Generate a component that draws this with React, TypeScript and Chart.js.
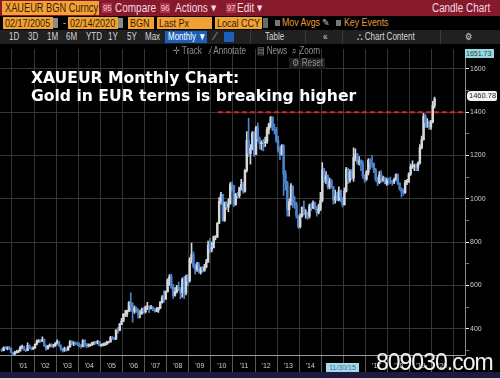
import React, { useEffect, useRef } from 'react';
import { Chart, registerables } from 'chart.js';

Chart.register(...registerables);

// ---- data (monthly XAUEUR candles, Jul 2000 .. Feb 2020) ----
const START_YEAR = 2000;
const START_MONTH = 7; // July
const firstOpen = 305;

const closes = [
  // 2000 Jul-Dec
  299, 313, 310, 311, 310, 290,
  // 2001
  282, 290, 293, 297, 314, 319, 302, 300, 322, 310, 309, 311,
  // 2002
  328, 341, 346, 343, 350, 321, 308, 318, 326, 320, 322, 331,
  // 2003
  341, 322, 306, 300, 306, 301, 316, 341, 332, 333, 332, 330,
  // 2004
  320, 317, 347, 323, 322, 324, 326, 334, 335, 334, 341, 322,
  // 2005
  325, 327, 329, 338, 339, 360, 355, 352, 394, 392, 420, 435,
  // 2006
  466, 468, 482, 520, 504, 480, 495, 487, 472, 472, 489, 479,
  // 2007
  500, 504, 494, 498, 492, 481, 485, 495, 523, 544, 536, 571,
  // 2008
  624, 639, 591, 554, 571, 592, 585, 567, 627, 565, 641, 621,
  // 2009
  719, 742, 689, 670, 694, 661, 677, 668, 685, 707, 786, 766,
  // 2010
  773, 824, 824, 887, 988, 1020, 899, 983, 961, 976, 1066, 1060,
  // 2011
  973, 1021, 1014, 1051, 1067, 1034, 1131, 1270, 1209, 1233, 1303, 1205,
  // 2012
  1327, 1276, 1254, 1261, 1259, 1263, 1319, 1343, 1377, 1322, 1318, 1269,
  // 2013
  1223, 1205, 1246, 1115, 1072, 949, 986, 1058, 983, 973, 919, 871,
  // 2014
  919, 961, 932, 934, 919, 966, 957, 980, 961, 937, 954, 992,
  // 2015
  1132, 1083, 1106, 1056, 1082, 1056, 995, 1012, 995, 1038, 1005, 973,
  // 2016
  1035, 1136, 1083, 1124, 1095, 1190, 1206, 1169, 1175, 1161, 1107, 1091,
  // 2017
  1121, 1178, 1167, 1163, 1132, 1089, 1075, 1111, 1085, 1096, 1071, 1086,
  // 2018
  1085, 1080, 1077, 1088, 1110, 1071, 1046, 1035, 1028, 1075, 1081, 1115,
  // 2019
  1149, 1152, 1154, 1146, 1165, 1236, 1273, 1382, 1350, 1351, 1331, 1355,
  // 2020 Jan-Feb
  1432, 1460.78,
];

const highs = [
  308, 316, 318, 316, 318, 312,
  292, 295, 300, 302, 320, 324, 320, 306, 335, 325, 315, 316,
  330, 348, 350, 350, 362, 352, 325, 323, 330, 330, 328, 336,
  348, 343, 325, 310, 315, 312, 320, 345, 345, 340, 338, 338,
  335, 328, 348, 347, 332, 330, 330, 338, 340, 342, 346, 340,
  330, 334, 336, 343, 342, 365, 365, 360, 396, 405, 425, 448,
  470, 485, 486, 525, 565, 520, 505, 500, 490, 483, 495, 497,
  504, 522, 505, 508, 502, 494, 497, 498, 525, 553, 575, 575,
  630, 650, 652, 605, 590, 600, 615, 590, 635, 640, 648, 650,
  728, 795, 755, 700, 706, 705, 684, 688, 697, 720, 805, 816,
  800, 828, 830, 890, 1005, 1030, 1020, 985, 988, 1000, 1075, 1078,
  1062, 1025, 1030, 1054, 1090, 1077, 1135, 1310, 1372, 1250, 1310, 1310,
  1335, 1350, 1285, 1268, 1275, 1285, 1330, 1350, 1380, 1378, 1345, 1330,
  1290, 1240, 1250, 1250, 1130, 1080, 1000, 1070, 1060, 1010, 985, 925,
  930, 962, 990, 950, 940, 975, 980, 990, 985, 965, 975, 1030,
  1167, 1140, 1125, 1110, 1095, 1090, 1055, 1040, 1030, 1055, 1040, 1005,
  1050, 1145, 1140, 1135, 1135, 1235, 1230, 1210, 1195, 1180, 1175, 1110,
  1130, 1185, 1185, 1200, 1165, 1140, 1100, 1125, 1130, 1105, 1100, 1095,
  1095, 1100, 1085, 1095, 1115, 1115, 1075, 1050, 1045, 1085, 1090, 1120,
  1160, 1175, 1160, 1160, 1170, 1250, 1290, 1395, 1390, 1370, 1360, 1362,
  1450, 1470,
];

const lows = [
  295, 297, 305, 302, 303, 288,
  280, 281, 287, 289, 296, 308, 299, 294, 298, 306, 302, 303,
  309, 325, 336, 336, 340, 318, 300, 305, 316, 314, 313, 318,
  328, 318, 300, 292, 295, 296, 300, 314, 325, 322, 326, 322,
  316, 310, 316, 318, 312, 316, 318, 322, 326, 328, 330, 320,
  318, 320, 322, 325, 333, 338, 350, 348, 350, 378, 390, 418,
  432, 455, 455, 478, 480, 430, 470, 475, 448, 450, 466, 470,
  472, 488, 474, 490, 483, 476, 478, 475, 492, 518, 520, 535,
  568, 600, 586, 540, 550, 565, 575, 538, 545, 538, 556, 600,
  615, 702, 680, 652, 664, 655, 652, 661, 664, 680, 707, 752,
  754, 780, 810, 820, 885, 975, 897, 895, 950, 940, 975, 1035,
  963, 970, 1000, 1005, 1040, 1025, 1030, 1124, 1195, 1160, 1225, 1195,
  1205, 1265, 1230, 1225, 1221, 1240, 1255, 1300, 1330, 1315, 1300, 1260,
  1215, 1180, 1200, 1015, 1040, 920, 920, 970, 960, 955, 910, 863,
  865, 915, 925, 910, 905, 910, 945, 955, 950, 920, 930, 945,
  985, 1075, 1070, 1045, 1045, 1050, 975, 980, 990, 990, 985, 962,
  970, 1030, 1070, 1075, 1090, 1080, 1175, 1160, 1155, 1130, 1095, 1075,
  1085, 1110, 1135, 1145, 1120, 1080, 1060, 1070, 1075, 1080, 1068, 1062,
  1065, 1070, 1062, 1070, 1085, 1065, 1040, 1007, 1015, 1025, 1065, 1075,
  1108, 1140, 1130, 1130, 1130, 1160, 1230, 1270, 1330, 1330, 1320, 1320,
  1350, 1420,
];

const yearLabels = [
  "'01", "'02", "'03", "'04", "'05", "'06", "'07", "'08", "'09", "'10",
  "'11", "'12", "'13", "'14", "'15", "'16", "'17", "'18", "'19", "'20",
];
const hiddenYearLabels = ["'15", "'16"];
const firstLabelYear = 2001;
const majorYTicks = [400, 600, 800, 1000, 1200, 1400, 1600];
const minorYTicks = [300, 500, 700, 900, 1100, 1300, 1500];
const resistanceLevel = 1400;
const resistanceStart = 2010.32;
const lastPriceLabel = '1460.78';
const axisTopLabel = '1651.73';
const cursorDateLabel = '11/30/15';

const X_MIN = 2000.457;
const X_MAX = 2021.5;
const Y_MIN = 278.4;
const Y_MAX = 1690.7;

const UP = '#d4d6da';
const DOWN = '#4b84cc';
const GRID = '#363636';
const SANS = '"Liberation Sans", Arial, sans-serif';

function CandleChart() {
  const ref = useRef<HTMLCanvasElement | null>(null);
  useEffect(() => {
    if (!ref.current) return;
    const times = closes.map((_, i) => START_YEAR + (START_MONTH - 1 + i + 0.5) / 12);
    const opens = closes.map((_, i) => (i === 0 ? firstOpen : closes[i - 1]));
    const colors = closes.map((c, i) => (c >= opens[i] ? UP : DOWN));

    const xTicks: number[] = [];
    for (let k = 0; k < yearLabels.length; k++) {
      xTicks.push(firstLabelYear + k);
      xTicks.push(firstLabelYear + k + 0.5);
    }
    xTicks.push(firstLabelYear + yearLabels.length);
    const yTicks = [...majorYTicks, ...minorYTicks].sort((a, b) => a - b);

    const chart = new Chart(ref.current, {
      type: 'bar',
      data: {
        datasets: [
          {
            type: 'line',
            data: [
              { x: resistanceStart, y: resistanceLevel },
              { x: X_MAX, y: resistanceLevel },
            ],
            borderColor: '#d42828',
            borderWidth: 2,
            borderDash: [5, 3],
            pointRadius: 0,
            order: 0,
          } as any,
          {
            type: 'bar',
            data: times.map((t, i) => ({ x: t, y: [lows[i], highs[i]] })),
            backgroundColor: colors,
            barThickness: 1,
            grouped: false,
            borderWidth: 0,
            order: 2,
          } as any,
          {
            type: 'bar',
            data: times.map((t, i) => ({ x: t, y: [opens[i], closes[i]] })),
            backgroundColor: colors,
            barThickness: 1.8,
            grouped: false,
            borderWidth: 0,
            order: 1,
          } as any,
        ],
      },
      options: {
        animation: false,
        responsive: false,
        maintainAspectRatio: false,
        layout: { padding: { top: 1, left: 0, right: 0, bottom: 0 } },
        plugins: { legend: { display: false }, tooltip: { enabled: false } },
        scales: {
          x: {
            type: 'linear',
            min: X_MIN,
            max: X_MAX,
            offset: false,
            grid: {
              offset: false,
              color: (ctx: any) => (ctx.tick && Number.isInteger(ctx.tick.value) ? GRID : 'rgba(0,0,0,0)'),
              tickColor: (ctx: any) => (ctx.tick && Number.isInteger(ctx.tick.value) ? '#5a5a5a' : 'rgba(0,0,0,0)'),
              tickLength: 17,
            },
            border: { color: '#9a9a9a', width: 1 },
            ticks: {
              autoSkip: false,
              maxRotation: 0,
              minRotation: 0,
              padding: -10,
              color: '#cfcfcf',
              font: { size: 7, family: SANS },
              callback: (v: any) => {
                const n = Number(v);
                if (Number.isInteger(n)) return '';
                const lbl = yearLabels[Math.floor(n) - firstLabelYear];
                if (!lbl || hiddenYearLabels.includes(lbl)) return '';
                return lbl;
              },
            },
            afterBuildTicks: (s: any) => {
              s.ticks = xTicks.map((v) => ({ value: v }));
            },
            afterFit: (s: any) => {
              s.height = 17;
            },
          } as any,
          y: {
            type: 'linear',
            position: 'right',
            min: Y_MIN,
            max: Y_MAX,
            grid: {
              color: (ctx: any) => (ctx.tick && majorYTicks.includes(ctx.tick.value) ? GRID : 'rgba(0,0,0,0)'),
              tickColor: (ctx: any) => (ctx.tick && majorYTicks.includes(ctx.tick.value) ? '#ffffff' : '#777777'),
              tickLength: 4,
            },
            border: { color: '#8a8a8a', width: 1 },
            ticks: {
              padding: 1,
              color: '#cfcfcf',
              font: { size: 7, family: SANS },
              callback: (v: any) => (majorYTicks.includes(Number(v)) ? String(v) : ''),
            },
            afterBuildTicks: (s: any) => {
              s.ticks = yTicks.map((v) => ({ value: v }));
            },
            afterFit: (s: any) => {
              s.width = 35;
            },
          } as any,
        },
      },
    });
    return () => chart.destroy();
  }, []);
  return (
    <canvas
      ref={ref}
      width={500}
      height={328}
      style={{ position: 'absolute', left: 0, top: 44, width: 500, height: 328 }}
    />
  );
}

const abs = (left: number, top: number, extra: React.CSSProperties = {}): React.CSSProperties => ({
  position: 'absolute',
  left,
  top,
  whiteSpace: 'nowrap',
  ...extra,
});

// narrow text: regular font squeezed horizontally
function N(props: {
  left: number;
  top: number;
  size: number;
  color: string;
  lh: number;
  sx?: number;
  children: React.ReactNode;
}) {
  const { left, top, size, color, lh, sx = 0.78, children } = props;
  return (
    <div
      style={abs(left, top, {
        color,
        fontSize: size,
        lineHeight: `${lh}px`,
        transform: `scaleX(${sx})`,
        transformOrigin: 'left top',
      })}
    >
      {children}
    </div>
  );
}

export default function App() {
  const orange = '#f2a235';
  const orangeText = '#3b1a02';
  const redBar = '#86192c';
  const redText = '#f3dbe0';
  const box = (left: number, top: number, w: number, h: number, bg: string) => (
    <div style={abs(left, top, { width: w, height: h, background: bg })} />
  );
  const row2Box = (left: number, width: number, text: string) => (
    <>
      {box(left, 17, width, 12, orange)}
      <N left={left + 2} top={17} size={11} color={orangeText} lh={12} sx={0.82}>
        {text}
      </N>
    </>
  );
  const row3 = (left: number, text: string) => (
    <N left={left} top={30} size={10} color="#d6d6d6" lh={14} sx={0.8}>
      {text}
    </N>
  );
  const row4 = (left: number, text: string) => (
    <N left={left} top={45} size={10} color="#8e8e8e" lh={12} sx={0.82}>
      {text}
    </N>
  );
  return (
    <div
      style={{
        position: 'fixed',
        left: 0,
        top: 0,
        width: 500,
        height: 378,
        background: '#000',
        overflow: 'hidden',
        fontFamily: SANS,
      }}
    >
      <CandleChart />

      {/* row 1 */}
      {box(0, 0, 500, 16, redBar)}
      {box(2, 1, 97, 14, orange)}
      <N left={5} top={1} size={12.5} color={orangeText} lh={14} sx={0.74}>
        XAUEUR BGN Curncy
      </N>
      {box(102, 3, 10, 10, '#a8334a')}
      <N left={103} top={2} size={9} color="#f4c4ce" lh={12} sx={0.85}>
        95
      </N>
      <N left={115} top={1} size={12.5} color={redText} lh={14} sx={0.8}>
        Compare
      </N>
      {box(160, 3, 10, 10, '#a8334a')}
      <N left={161} top={2} size={9} color="#f4c4ce" lh={12} sx={0.85}>
        96
      </N>
      <N left={175} top={1} size={12.5} color={redText} lh={14} sx={0.8}>
        Actions ▾
      </N>
      {box(226, 3, 10, 10, '#a8334a')}
      <N left={227} top={2} size={9} color="#f4c4ce" lh={12} sx={0.85}>
        97
      </N>
      <N left={237} top={1} size={12.5} color={redText} lh={14} sx={0.8}>
        Edit ▾
      </N>
      <N left={432} top={1} size={12.5} color={redText} lh={14} sx={0.79}>
        Candle Chart
      </N>

      {/* row 2 */}
      {row2Box(3, 50, '02/17/2005')}
      {box(53, 18, 5, 10, '#8a8a8a')}
      <N left={63} top={16} size={11} color="#bbb" lh={13}>
        -
      </N>
      {row2Box(68, 50, '02/14/2020')}
      {box(118, 18, 5, 10, '#8a8a8a')}
      {row2Box(128, 26, 'BGN')}
      {row2Box(157, 55, 'Last Px')}
      {row2Box(215, 47, 'Local CCY')}
      {box(263, 18, 5, 10, '#6a6a6a')}
      {box(275, 20, 5, 6, '#777')}
      <N left={282} top={16} size={11} color="#e69a3a" lh={13} sx={0.8}>
        Mov Avgs
      </N>
      <N left={322} top={16} size={10} color="#bbb" lh={13} sx={0.9}>
        ✎
      </N>
      {box(336, 20, 5, 6, '#777')}
      <N left={344} top={16} size={11} color="#e69a3a" lh={13} sx={0.8}>
        Key Events
      </N>

      {/* row 3 */}
      {box(0, 30, 500, 14, '#202020')}
      {row3(9, '1D')}
      {row3(28, '3D')}
      {row3(47, '1M')}
      {row3(66, '6M')}
      {row3(86, 'YTD')}
      {row3(108, '1Y')}
      {row3(127, '5Y')}
      {row3(145, 'Max')}
      {box(165, 31, 42, 12, '#1c5fb8')}
      <N left={168} top={31} size={10} color="#fff" lh={12} sx={0.8}>
        Monthly ▼
      </N>
      {row3(212, '⟋')}
      {box(224, 32, 10, 10, '#1c5fb8')}
      {row3(265, 'Table')}
      {row3(323, '«')}
      {row3(357, '⛬ Chart Content')}
      {row3(465, '⚙')}
      {box(250, 30, 1, 14, '#3a3a3a')}
      {box(305, 30, 1, 14, '#3a3a3a')}
      {box(342, 30, 1, 14, '#3a3a3a')}
      {box(440, 30, 1, 14, '#3a3a3a')}

      {/* row 4 */}
      {row4(173, '✛ Track')}
      {row4(210, '⁄ Annotate')}
      {row4(257, '▤ News')}
      {row4(292, '⌕ Zoom')}
      {box(289, 58, 36, 11, '#1e1e1e')}
      <N left={292} top={57} size={10} color="#8e8e8e" lh={12} sx={0.82}>
        ⚙ Reset
      </N>

      {/* title */}
      <div
        style={abs(31, 69, {
          color: '#ffffff',
          fontFamily: '"DejaVu Sans", Verdana, sans-serif',
          fontWeight: 'bold',
          fontSize: 15.6,
          lineHeight: '18px',
        })}
      >
        XAUEUR Monthly Chart:
      </div>
      <div
        style={abs(31, 87, {
          color: '#ffffff',
          fontFamily: '"DejaVu Sans", Verdana, sans-serif',
          fontWeight: 'bold',
          fontSize: 15.6,
          lineHeight: '18px',
        })}
      >
        Gold in EUR terms is breaking higher
      </div>

      {/* axis value tags */}
      <div
        style={abs(465, 49, {
          width: 29,
          height: 9,
          background: '#9ad8e0',
          color: '#1d4852',
          fontSize: 7,
          lineHeight: '9px',
          paddingLeft: 1,
          boxSizing: 'border-box',
        })}
      >
        {axisTopLabel}
      </div>
      <div
        style={abs(467, 91, {
          width: 30,
          height: 10,
          background: '#f4f4f4',
          color: '#222',
          fontSize: 7.5,
          lineHeight: '10px',
          borderRadius: '4px 2px 2px 4px',
          paddingLeft: 2,
          boxSizing: 'border-box',
        })}
      >
        {lastPriceLabel}
      </div>

      {/* cursor date tag */}
      <div
        style={abs(326, 363, {
          width: 33,
          height: 10,
          background: '#a7d9ec',
          color: '#3a6a92',
          fontSize: 7,
          lineHeight: '10px',
          textAlign: 'center',
        })}
      >
        {cursorDateLabel}
      </div>

      {/* bottom strip */}
      {box(0, 372, 500, 6, '#1b1b3e')}

      {/* watermark */}
      <div
        style={abs(376, 348, {
          color: '#f2f2f2',
          fontSize: 23,
          letterSpacing: -1,
          lineHeight: '28px',
        })}
      >
        809030.com
      </div>
    </div>
  );
}
